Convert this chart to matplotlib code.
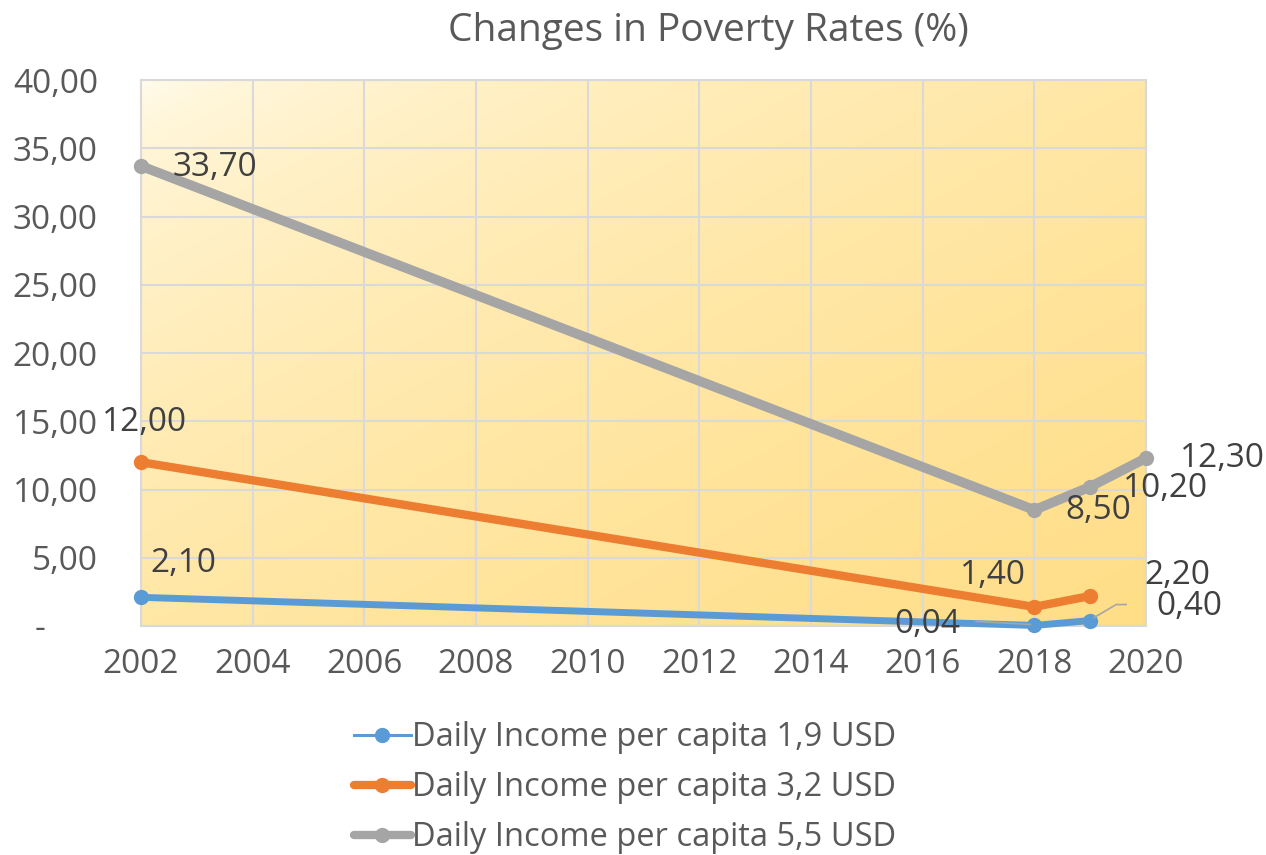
import numpy as np
import matplotlib
matplotlib.use("Agg")
import matplotlib.pyplot as plt
from matplotlib.lines import Line2D
from matplotlib.ticker import FuncFormatter, MultipleLocator

plt.rcParams['font.family'] = ['Open Sans', 'DejaVu Sans']

years_19 = [2002, 2018, 2019]
vals_19 = [2.10, 0.04, 0.40]
years_32 = [2002, 2018, 2019]
vals_32 = [12.00, 1.40, 2.20]
years_55 = [2002, 2018, 2019, 2020]
vals_55 = [33.70, 8.50, 10.20, 12.30]
series_names = ["Daily Income per capita 1,9 USD",
                "Daily Income per capita 3,2 USD",
                "Daily Income per capita 5,5 USD"]
colors = ["#5B9BD5", "#ED7D31", "#A5A5A5"]
x_ticks = list(range(2002, 2021, 2))
title = "Changes in Poverty Rates (%)"

def fmt(v):
    return f"{v:.2f}".replace(".", ",")

W, H = 1266, 855
fig = plt.figure(figsize=(W / 100, H / 100), dpi=100)
ax = fig.add_axes([141 / W, 1 - 626 / H, (1146 - 141) / W, (626 - 80) / H])

# gradient background
n = 300
u = np.linspace(0, 1, n)[None, :]
v = np.linspace(1, 0, n)[:, None]
t = np.clip((u + (1 - v)) / 2, 0, 1) ** 0.5
c0 = np.array([255, 253, 242]) / 255
c1 = np.array([255, 222, 135]) / 255
img = c0[None, None, :] * (1 - t[..., None]) + c1[None, None, :] * t[..., None]
ax.imshow(img, extent=[2002, 2020, 0, 40], aspect='auto', zorder=0, origin='upper')

ax.set_xlim(2002, 2020)
ax.set_ylim(0, 40)
ax.yaxis.set_major_locator(MultipleLocator(5))
ax.set_xticks(x_ticks)
ax.grid(True, color="#D9D9D9", linewidth=1.5, zorder=1)
for s in ax.spines.values():
    s.set_color("#D9D9D9")
    s.set_linewidth(1.5)
ax.tick_params(length=0, labelsize=24, labelcolor="#595959")
ax.tick_params(axis='y', pad=31)
ax.tick_params(axis='x', pad=16)
ax.yaxis.set_major_formatter(FuncFormatter(lambda v, p: "-      " if v == 0 else fmt(v)))

lw = [5, 6, 7]
for xs, ys, c, w in [(years_19, vals_19, colors[0], lw[0]),
                     (years_32, vals_32, colors[1], lw[1]),
                     (years_55, vals_55, colors[2], lw[2])]:
    ax.plot(xs, ys, color=c, linewidth=w, marker='o', markersize=10,
            solid_capstyle='round', zorder=3, clip_on=False)

lab_kw = dict(textcoords='offset pixels', fontsize=24, color="#404040",
              ha='center', va='center', zorder=5)
offsets_55 = [(74, -2), (64, -1), (75, -2), (76, 0)]
offsets_32 = [(4, 40), (-41, 31), (87, 20)]
offsets_19 = [(42, 34), (-107, 1), (99, 14)]
for xs, ys, offs in [(years_55, vals_55, offsets_55),
                     (years_32, vals_32, offsets_32),
                     (years_19, vals_19, offsets_19)]:
    for x, y, o in zip(xs, ys, offs):
        ax.annotate(fmt(y), (x, y), xytext=o, **lab_kw)

# leader lines for small labels (pixel offsets from the data point)
inv = ax.transData.inverted()
def leader(x, y, offs):
    p = ax.transData.transform((x, y))
    pts = inv.transform([p + np.array(o) for o in offs])
    ax.plot(pts[:, 0], pts[:, 1], color="#A6A6A6", lw=1.2, zorder=4, clip_on=False)

leader(years_19[1], vals_19[1], [(-4, 1), (-58, 4)])
leader(years_19[2], vals_19[2], [(4, 3), (26, 16), (36, 16)])

fig.text(708 / W, 1 - 31 / H, title, fontsize=28, color="#595959", ha='center', va='center')

handles = [Line2D([], [], color=colors[0], lw=2.2, marker='o', markersize=10),
           Line2D([], [], color=colors[1], lw=6, marker='o', markersize=10, solid_capstyle='round'),
           Line2D([], [], color=colors[2], lw=6, marker='o', markersize=10, solid_capstyle='round')]
fig.legend(handles, series_names, loc='upper center', bbox_to_anchor=(625 / W, 1 - 705 / H),
           frameon=False, fontsize=23.5, labelcolor="#595959", handlelength=1.75,
           handletextpad=0.05, labelspacing=0.52, borderpad=0)

fig.savefig("out.png", dpi=100)
